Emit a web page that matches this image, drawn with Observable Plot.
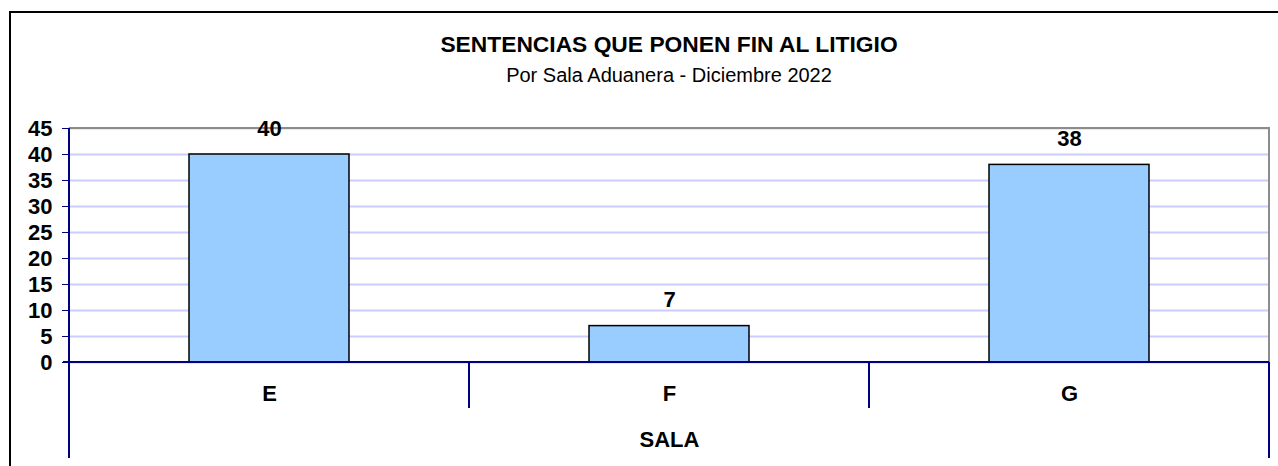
<!DOCTYPE html>
<html>
<head>
<meta charset="utf-8">
<script src="https://cdn.jsdelivr.net/npm/d3@7"></script>
<script src="https://cdn.jsdelivr.net/npm/@observablehq/plot@0.6"></script>
<style>
  html, body { margin: 0; padding: 0; background: #fff; }
  #wrap { position: relative; width: 1278px; height: 466px; overflow: hidden; font-family: "Liberation Sans", Arial, sans-serif; }
  #border { position: absolute; left: 9px; top: 11px; width: 1400px; height: 600px; border-left: 2px solid #000; border-top: 2px solid #000; }
  #title { position: absolute; left: 68px; width: 1202px; top: 32px; line-height: 24px; text-align: center; font-weight: bold; font-size: 22.8px; color: #000; }
  #subtitle { position: absolute; left: 68px; width: 1202px; top: 64px; line-height: 22px; text-align: center; font-size: 20px; color: #000; }
  #chart { position: absolute; left: 0; top: 0; }
</style>
</head>
<body>
<div id="wrap">
  <div id="border"></div>
  <div id="chart"></div>
  <div id="title">SENTENCIAS QUE PONEN FIN AL LITIGIO</div>
  <div id="subtitle">Por Sala Aduanera - Diciembre 2022</div>
</div>
<script>
const salas = ["E", "F", "G"];
const sentencias = [40, 7, 38];
const yTicks = [0, 5, 10, 15, 20, 25, 30, 35, 40, 45];
const xTitle = "SALA";

const data = salas.map((s, i) => ({sala: s, valor: sentencias[i]}));
const axisBlue = "#000080";
const fs = 22;

const chart = Plot.plot({
  width: 1278,
  height: 466,
  marginLeft: 68,
  marginRight: 8,
  marginTop: 128,
  marginBottom: 104,
  style: {fontFamily: "'Liberation Sans', Arial, sans-serif", fontSize: fs + "px", fontWeight: "bold", color: "#000", background: "transparent"},
  x: {domain: salas, type: "band", paddingInner: 0.6, paddingOuter: 0.3, label: null},
  y: {domain: [0, 45], label: null},
  marks: [
    Plot.gridY(yTicks, {stroke: "#ccccff", strokeOpacity: 1, strokeWidth: 2}),
    Plot.barY(data, {x: "sala", y: "valor", fill: "#99ccff", stroke: "#000", strokeWidth: 1.5}),
    Plot.text(data, {x: "sala", y: "valor", text: d => String(d.valor), dy: -26, fontWeight: "bold", fontSize: fs, fill: "#000"}),
    Plot.axisY(yTicks, {tickSize: 6, tickPadding: 10, stroke: axisBlue, fill: "#000", fontWeight: "bold", fontSize: fs, label: null}),
    Plot.axisX({tickSize: 0, tickPadding: 23, fill: "#000", fontWeight: "bold", fontSize: fs, label: null}),
    Plot.text([xTitle], {frameAnchor: "bottom", dy: 84, fontWeight: "bold", fontSize: fs, fill: "#000"})
  ]
});

document.getElementById("chart").appendChild(chart);

// Excel-style frame and category separators, positioned from the Plot scales
const xs = chart.scale("x");
const ys = chart.scale("y");
const svg = d3.select(chart);
const gap = (xs.step - xs.bandwidth) / 2;
const bounds = salas.map(s => xs.apply(s) - gap);
bounds.push(xs.apply(salas[salas.length - 1]) + xs.bandwidth + gap);
const yTop = ys.apply(45), yBase = ys.apply(0);
const left = bounds[0], right = bounds[bounds.length - 1];
const g = svg.append("g");
g.append("path").attr("d", `M${left},${yTop}H${right}V${yBase}`).attr("fill", "none").attr("stroke", "#8c8c8c").attr("stroke-width", 2);
g.append("line").attr("x1", left).attr("x2", left).attr("y1", yTop).attr("y2", 458).attr("stroke", axisBlue).attr("stroke-width", 2);
g.append("line").attr("x1", right).attr("x2", right).attr("y1", yBase).attr("y2", 458).attr("stroke", axisBlue).attr("stroke-width", 2);
g.append("line").attr("x1", left - 6).attr("x2", right).attr("y1", yBase).attr("y2", yBase).attr("stroke", axisBlue).attr("stroke-width", 2);
bounds.slice(1, -1).forEach(b => {
  g.append("line").attr("x1", b).attr("x2", b).attr("y1", yBase).attr("y2", yBase + 46).attr("stroke", axisBlue).attr("stroke-width", 2);
});
// keep value labels above the frame lines
svg.selectAll("g[aria-label='text']").raise();
</script>
</body>
</html>
